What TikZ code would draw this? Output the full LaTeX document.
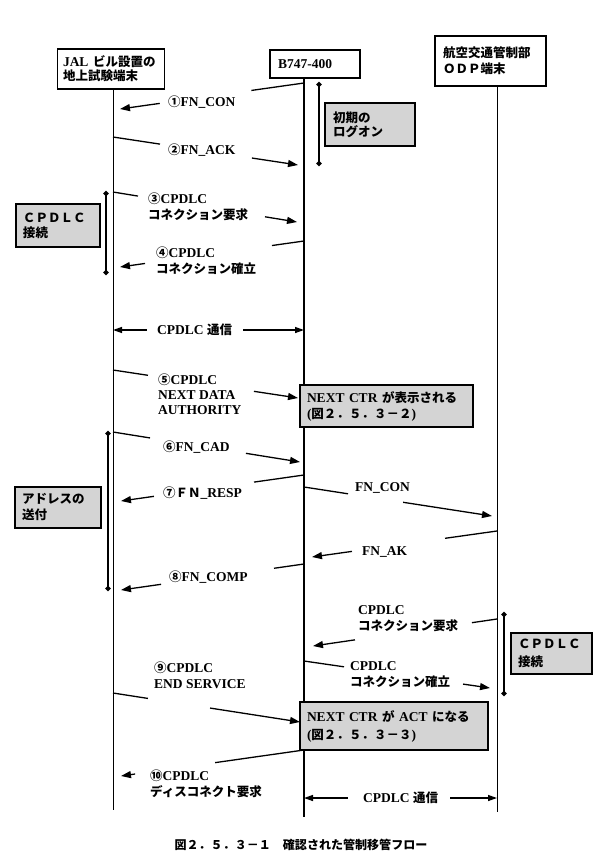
\documentclass[tikz,border=0pt]{standalone}
\usepackage{fontspec}
\setmainfont{Liberation Serif}
\newfontfamily\jp[Scale=0.926]{Noto Sans CJK JP}
\usetikzlibrary{arrows.meta,calc}
\newcommand\J[1]{{\jp #1}}
\newcommand\msgline[4]{\draw[msg] (#1) -- ($(#1)!#3!(#2)$); \draw[arr] ($(#1)!#4!(#2)$) -- (#2);}
\tikzset{
 life/.style={line width=0.9pt},
 msg/.style={line width=1.3pt},
 arr/.style={line width=1.3pt,-{Triangle[length=10pt,width=7pt]}},
 txt/.style={font=\bfseries\fontsize{13.5}{16}\selectfont},
 hdr/.style={draw,line width=1.3pt,fill=white,txt,align=left},
 gbox/.style={draw,line width=1.3pt,fill=black!17,txt,align=left},
 lbl/.style={txt,align=left,inner sep=0pt,anchor=west},
 bar/.style={line width=2pt,{Circle[length=5pt]}-{Circle[length=5pt]}},
}
\begin{document}
\begin{tikzpicture}[x=1pt,y=-1pt]
\useasboundingbox[fill=white] (0,0) rectangle (597,860);

% lifelines
\coordinate (Ltop) at (113,89);  \coordinate (Lbot) at (113,810);
\coordinate (Mtop) at (304,78);  \coordinate (Mbot) at (304,817);
\coordinate (Rtop) at (497,86);  \coordinate (Rbot) at (497,812);
\draw[life] (Ltop) -- (Lbot);
\draw[line width=1.2pt] (Mtop) -- (Mbot);
\draw[life] (Rtop) -- (Rbot);

% header boxes
\node[hdr,minimum width=107pt,minimum height=40pt,text width=96pt,inner xsep=5.5pt] (hL) at (111,69) {JAL \J{ビル設置の}\\[-2pt]\J{地上試験端末}};
\node[hdr,minimum width=90pt,minimum height=28pt,text width=74pt,inner xsep=8pt] (hM) at (315,64) {B747-400};
\node[hdr,minimum width=111pt,minimum height=50pt,text width=95pt,inner xsep=8pt] (hR) at (490.5,61) {\J{航空交通管制部}\\\J{ＯＤＰ端末}};

% messages
\coordinate (a1) at (304,83);  \coordinate (b1) at (120,109);
\msgline{a1}{b1}{.286}{.784}
\node[lbl] (t1) at (168,102) {\J{①}FN\_CON};

\coordinate (a2) at (113,137); \coordinate (b2) at (298,165);
\msgline{a2}{b2}{.254}{.751}
\node[lbl] (t2) at (168,150) {\J{②}FN\_ACK};

\coordinate (a3) at (113,192); \coordinate (b3) at (297,222);
\msgline{a3}{b3}{.136}{.826}
\node[lbl] (t3) at (148,207) {\J{③}CPDLC\\\J{コネクション要求}};

\coordinate (a4) at (304,241); \coordinate (b4) at (120,267);
\msgline{a4}{b4}{.174}{.864}
\node[lbl] (t4) at (156,261) {\J{④}CPDLC\\\J{コネクション確立}};

\coordinate (c1a) at (113,330); \coordinate (c1b) at (304,330);
\draw[msg,{Triangle[length=9pt,width=6pt]}-] (c1a) -- (147,330);
\draw[msg,-{Triangle[length=9pt,width=6pt]}] (243,330) -- (c1b);
\node[lbl] (tc1) at (157,330) {CPDLC \J{通信}};

\coordinate (a5) at (113,370); \coordinate (b5) at (298,398);
\msgline{a5}{b5}{.189}{.762}
\node[lbl] (t5) at (158,394) {\J{⑤}CPDLC\\[-1pt]NEXT DATA\\[-1pt]AUTHORITY};

\coordinate (a6) at (113,432); \coordinate (b6) at (300,462);
\msgline{a6}{b6}{.198}{.711}
\node[lbl] (t6) at (163,447) {\J{⑥}FN\_CAD};

\coordinate (a7) at (304,475); \coordinate (b7) at (121,501);
\msgline{a7}{b7}{.273}{.820}
\node[lbl] (t7) at (163,493) {\J{⑦ＦＮ}\_RESP};

\coordinate (a8) at (304,487); \coordinate (b8) at (492,516);
\msgline{a8}{b8}{.234}{.527}
\node[lbl] (t8) at (355,488) {FN\_CON};

\coordinate (a9) at (497,531); \coordinate (b9) at (312,557);
\msgline{a9}{b9}{.281}{.784}
\node[lbl] (t9) at (362,552) {FN\_AK};

\coordinate (a10) at (304,564); \coordinate (b10) at (121,590);
\msgline{a10}{b10}{.164}{.781}
\node[lbl] (t10) at (169,577) {\J{⑧}FN\_COMP};

\coordinate (a11) at (497,619); \coordinate (b11) at (313,646);
\msgline{a11}{b11}{.136}{.772}
\node[lbl] (t11) at (358,619) {CPDLC\\\J{コネクション要求}};

\coordinate (a12) at (304,661); \coordinate (b12) at (490,688);
\msgline{a12}{b12}{.215}{.855}
\node[lbl] (t12) at (350,675) {CPDLC\\\J{コネクション確立}};

\coordinate (a13) at (113,693); \coordinate (b13) at (300,722);
\msgline{a13}{b13}{.187}{.519}
\node[lbl] (t13) at (154,675) {\J{⑨}CPDLC\\END SERVICE};

\coordinate (a14) at (304,750); \coordinate (b14) at (121,776);
\msgline{a14}{b14}{.486}{.923}
\node[lbl] (t14) at (150,784) {\J{⑩}CPDLC\\\J{ディスコネクト要求}};

\coordinate (c2a) at (304,798); \coordinate (c2b) at (497,798);
\draw[msg,{Triangle[length=9pt,width=6pt]}-] (c2a) -- (348,798);
\draw[msg,-{Triangle[length=9pt,width=6pt]}] (450,798) -- (c2b);
\node[lbl] (tc2) at (363,798) {CPDLC \J{通信}};

% grey boxes
\node[gbox,minimum width=90pt,minimum height=43pt,text width=74pt,inner xsep=8pt] (gLog) at (370,124.5) {\J{初期の}\\[-2pt]\J{ログオン}};
\node[gbox,minimum width=84pt,minimum height=43pt,text width=70pt,inner xsep=7pt] (gC1) at (58,225.5) {\J{ＣＰＤＬＣ}\\[-1pt]\J{接続}};
\node[gbox,minimum width=86pt,minimum height=41pt,text width=72pt,inner xsep=7pt] (gAd) at (58,507.5) {\J{アドレスの}\\\J{送付}};
\node[gbox,minimum width=81pt,minimum height=41pt,text width=67pt,inner xsep=7pt] (gC2) at (551.5,653.5) {\J{ＣＰＤＬＣ}\\[2pt]\J{接続}};
\node[gbox,minimum width=173pt,minimum height=42pt,text width=159pt,inner xsep=7pt] (gN1) at (386.5,406) {NEXT CTR \J{が表示される}\\(\J{図２．５．３－２})};
\node[gbox,minimum width=188pt,minimum height=48pt,text width=174pt,inner xsep=7pt] (gN2) at (394,726) {NEXT CTR \J{が} ACT \J{になる}\\[2pt](\J{図２．５．３－３})};

% bars
\coordinate (bl1) at (319,82);  \coordinate (bl2) at (319,166);
\draw[bar] (bl1) -- (bl2);
\coordinate (bc1) at (106,191); \coordinate (bc2) at (106,275);
\draw[bar] (bc1) -- (bc2);
\coordinate (ba1) at (108,431); \coordinate (ba2) at (108,591);
\draw[bar] (ba1) -- (ba2);
\coordinate (br1) at (504,612); \coordinate (br2) at (504,696);
\draw[bar] (br1) -- (br2);

% caption
\node[font=\bfseries\fontsize{13}{14}\selectfont] (cap) at (301,845) {\J{図２．５．３－１　確認された管制移管フロー}};
\end{tikzpicture}
\end{document}
